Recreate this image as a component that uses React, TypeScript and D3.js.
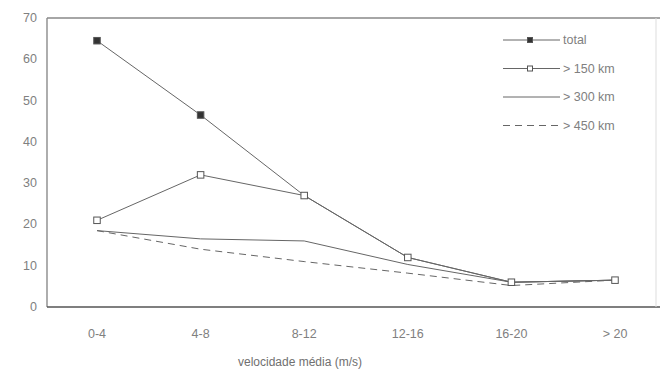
import React, { useEffect, useRef } from 'react';
import * as d3 from 'd3';

const categories = ['0-4', '4-8', '8-12', '12-16', '16-20', '> 20'];
const total = [64.5, 46.5, 27, 12, 6, 6.5];
const over150 = [21, 32, 27, 12, 6, 6.5];
const over300 = [18.5, 16.5, 16, 10.3, 6, 6.5];
const over450 = [18.5, 14, 11, 8.2, 5.2, 6.5];
const yTicks = [0, 10, 20, 30, 40, 50, 60, 70];
const legendLabels = ['total', '> 150 km', '> 300 km', '> 450 km'];

const W = 660, H = 371;

export default function App() {
  const ref = useRef<SVGSVGElement>(null);

  useEffect(() => {
    const svg = d3.select(ref.current);
    svg.selectAll('*').remove();
    const left = 47, right = 656, top = 18, bottom = 307;
    const x = d3.scalePoint<string>().domain(categories).range([97, 615]);
    const y = d3.scaleLinear().domain([0, 70]).range([bottom, top]);
    const ink = '#666';
    const font = 'Arial, "Liberation Sans", sans-serif';

    // frame
    svg.append('line').attr('x1', left).attr('x2', left).attr('y1', top).attr('y2', bottom)
      .attr('stroke', '#777').attr('stroke-width', 1.2);
    svg.append('line').attr('x1', left).attr('x2', 660).attr('y1', top).attr('y2', top)
      .attr('stroke', '#888').attr('stroke-width', 1.5);
    svg.append('line').attr('x1', left).attr('x2', 660).attr('y1', bottom).attr('y2', bottom)
      .attr('stroke', '#555').attr('stroke-width', 1.5);
    svg.append('line').attr('x1', right).attr('x2', right).attr('y1', top).attr('y2', bottom)
      .attr('stroke', '#ddd').attr('stroke-width', 1);

    // y ticks
    svg.append('g').selectAll('text').data(yTicks).enter().append('text')
      .attr('x', 37).attr('y', d => y(d) + 4).attr('text-anchor', 'end')
      .attr('font-family', font).attr('font-size', 12.5).attr('fill', '#808080')
      .text(d => d);

    // x ticks
    svg.append('g').selectAll('text').data(categories).enter().append('text')
      .attr('x', d => x(d)!).attr('y', 338).attr('text-anchor', 'middle')
      .attr('font-family', font).attr('font-size', 12.5).attr('fill', '#808080')
      .text(d => d);

    svg.append('text').attr('x', 300).attr('y', 366).attr('text-anchor', 'middle')
      .attr('font-family', font).attr('font-size', 12).attr('fill', '#707070')
      .text('velocidade média (m/s)');

    const line = d3.line<number>()
      .x((_, i) => x(categories[i])!)
      .y(d => y(d));

    const series = [
      { data: over450, dash: '7,5' },
      { data: over300, dash: null },
      { data: over150, dash: null },
      { data: total, dash: null },
    ];

    series.forEach(s => {
      svg.append('path').attr('d', line(s.data)!).attr('fill', 'none')
        .attr('stroke', ink).attr('stroke-width', 1)
        .attr('stroke-dasharray', s.dash);
    });

    const drawMarker = (g: any, cx: number, cy: number, kind: string, size: number) => {
      g.append('rect').attr('x', cx - size / 2).attr('y', cy - size / 2).attr('width', size).attr('height', size)
        .attr('fill', kind === 'filled' ? '#333' : '#fff').attr('stroke', '#555').attr('stroke-width', 1);
    };

    over150.forEach((v, i) => drawMarker(svg, x(categories[i])!, y(v), 'open', 6.5));
    total.slice(0, 2).forEach((v, i) => drawMarker(svg, x(categories[i])!, y(v), 'filled', 6.5));

    // legend
    const kinds = ['filled', 'open', null, null];
    const dashes = [null, null, null, '7,5'];
    const lg = svg.append('g');
    legendLabels.forEach((label, i) => {
      const ly = 40 + i * 28.5;
      lg.append('line').attr('x1', 503).attr('x2', 560).attr('y1', ly).attr('y2', ly)
        .attr('stroke', ink).attr('stroke-width', 1).attr('stroke-dasharray', dashes[i]);
      if (kinds[i]) drawMarker(lg, 530, ly, kinds[i]!, 5);
      lg.append('text').attr('x', 563).attr('y', ly + 4)
        .attr('font-family', font).attr('font-size', 12.5).attr('fill', '#808080')
        .text(label);
    });
  }, []);

  return (
    <div>
      <svg ref={ref} width={W} height={H} style={{ position: 'absolute', left: 0, top: 0, background: '#fff' }} />
    </div>
  );
}
